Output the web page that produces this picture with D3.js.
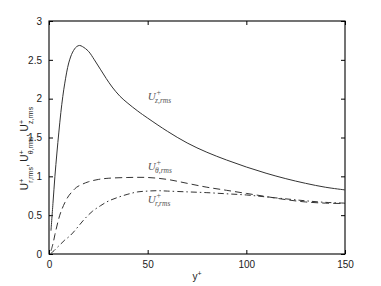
<!DOCTYPE html>
<html><head><meta charset="utf-8">
<script src="https://cdn.jsdelivr.net/npm/d3@7"></script>
<style>body{margin:0;background:#fff}svg{display:block}</style>
</head><body>
<script>
const yPlusZ = [1,2,3,4,5,6,7,8,10,12,14,15.5,17,20,23,26,29,32,36,40,45,50,60,70,80,90,100,110,120,130,140,150];
const uZ     = [0.3,0.65,1.0,1.3,1.57,1.82,2.03,2.2,2.46,2.6,2.67,2.685,2.67,2.61,2.5,2.38,2.26,2.15,2.03,1.94,1.84,1.75,1.58,1.43,1.31,1.21,1.12,1.04,0.97,0.91,0.86,0.825];
const yPlusT = [1,2,3,4,5,6,8,10,12,14,17,20,25,30,40,50,60,70,80,90,100,110,120,130,140,150];
const uT     = [0.04,0.13,0.25,0.36,0.46,0.54,0.66,0.75,0.81,0.86,0.9,0.93,0.96,0.975,0.985,0.985,0.96,0.91,0.86,0.82,0.78,0.74,0.7,0.67,0.655,0.65];
const yPlusR = [1,2,4,6,8,10,12,15,18,22,26,30,35,40,45,50,55,60,70,80,90,100,110,120,130,140,150];
const uR     = [0.01,0.03,0.08,0.13,0.18,0.22,0.27,0.36,0.45,0.55,0.62,0.68,0.73,0.77,0.8,0.81,0.815,0.81,0.8,0.79,0.775,0.76,0.735,0.71,0.685,0.665,0.655];
const xTicks = [0,50,100,150];
const yTicks = [0,0.5,1,1.5,2,2.5,3];
const curveLabels = ["z,rms","θ,rms","r,rms"];
const labelY = [1.98,1.08,0.66];

const W=381,H=286, L=49,R=345,T=21,B=254;
const svg=d3.select("body").append("svg").attr("width",W).attr("height",H);
const x=d3.scaleLinear().domain([0,150]).range([L,R]);
const y=d3.scaleLinear().domain([0,3]).range([B,T]);
const font="'Liberation Sans', Arial, sans-serif";
const serif="'Liberation Serif','DejaVu Serif',serif";

const ax=(g,axis)=>{g.call(axis);g.select(".domain").remove();g.selectAll("line").attr("stroke","#000");g.selectAll("text").attr("font-family",font).attr("font-size",10).attr("fill","#222");};
svg.append("g").attr("transform",`translate(0,${B})`).call(g=>ax(g,d3.axisBottom(x).tickValues(xTicks).tickSizeInner(-4).tickSizeOuter(0).tickPadding(7).tickFormat(d3.format("d"))));
svg.append("g").attr("transform",`translate(0,${T})`).call(g=>ax(g,d3.axisTop(x).tickValues(xTicks).tickSizeInner(-4).tickSizeOuter(0).tickFormat("")));
svg.append("g").attr("transform",`translate(${L},0)`).call(g=>ax(g,d3.axisLeft(y).tickValues(yTicks).tickSizeInner(-4).tickSizeOuter(0).tickPadding(7).tickFormat(d=>d3.format("")(d))));
svg.append("g").attr("transform",`translate(${R},0)`).call(g=>ax(g,d3.axisRight(y).tickValues(yTicks).tickSizeInner(-4).tickSizeOuter(0).tickFormat("")));
svg.append("rect").attr("x",L).attr("y",T).attr("width",R-L).attr("height",B-T).attr("fill","none").attr("stroke","#000").attr("stroke-width",1.1);

const line=d3.line().x(d=>x(d[0])).y(d=>y(d[1])).curve(d3.curveCatmullRom.alpha(0.5));
const zip=(a,b)=>a.map((v,i)=>[v,b[i]]);
svg.append("path").attr("d",line(zip(yPlusZ,uZ))).attr("fill","none").attr("stroke","#333").attr("stroke-width",1);
svg.append("path").attr("d",line(zip(yPlusT,uT))).attr("fill","none").attr("stroke","#333").attr("stroke-width",1).attr("stroke-dasharray","7,4");
svg.append("path").attr("d",line(zip(yPlusR,uR))).attr("fill","none").attr("stroke","#333").attr("stroke-width",1).attr("stroke-dasharray","6,3,1.5,3");

curveLabels.forEach((s,i)=>{
  const g=svg.append("g").attr("transform",`translate(${x(50)},${y(labelY[i])})`);
  const gU=g.append("text").attr("font-family",serif).attr("font-style","italic").attr("font-size",11).attr("fill","#555").text("U");
  const w=gU.node().getComputedTextLength();
  g.append("text").attr("x",w+0.5).attr("y",-5).attr("font-family",serif).attr("font-style","italic").attr("font-size",8).attr("fill","#555").text("+");
  g.append("text").attr("x",w-0.5).attr("y",3).attr("font-family",serif).attr("font-style","italic").attr("font-size",7.5).attr("fill","#555").text(s);
});

svg.append("text").attr("x",(L+R)/2).attr("y",280).attr("text-anchor","middle").attr("font-family",font).attr("font-size",10).attr("fill","#222")
  .call(t=>{t.append("tspan").text("y");t.append("tspan").attr("font-size",7).attr("dy",-4).text("+");});

const yg=svg.append("g");
const inner=yg.append("g");
let cx=0;
[["r,rms",true],["θ,rms",true],["z,rms",false]].forEach(([s,sep])=>{
  const u=inner.append("text").attr("x",cx).attr("y",0).attr("font-family",font).attr("font-size",10).attr("fill","#222").text("U");
  const uw=u.node().getComputedTextLength();
  const sp=inner.append("text").attr("x",cx+uw+0.3).attr("y",-4.5).attr("font-family",font).attr("font-size",7).attr("fill","#222").text("+");
  const sb=inner.append("text").attr("x",cx+uw+0.3).attr("y",4.5).attr("font-family",font).attr("font-size",7).attr("fill","#222").text(s);
  cx += uw+0.3+Math.max(sp.node().getComputedTextLength(), sb.node().getComputedTextLength());
  if(sep){ const c=inner.append("text").attr("x",cx).attr("y",0).attr("font-family",font).attr("font-size",10).attr("fill","#222").text(","); cx+=c.node().getComputedTextLength()+2.5; }
});
inner.attr("transform",`translate(${-cx/2},0)`);
yg.attr("transform",`translate(28,${(T+B)/2+11}) rotate(-90)`);
</script>
</body></html>
